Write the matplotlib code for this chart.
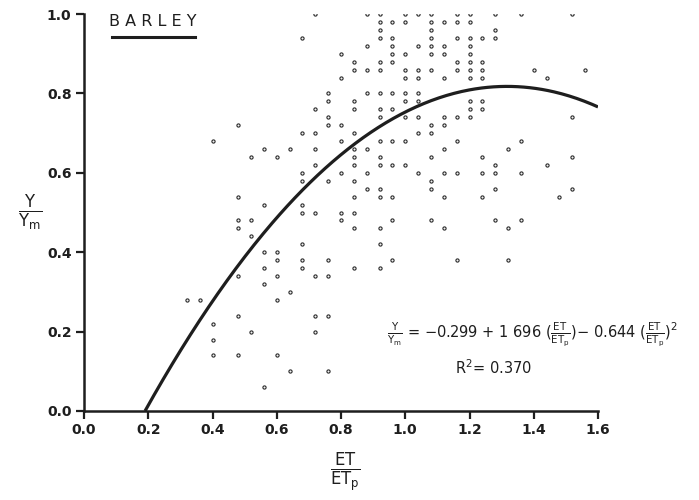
import numpy as np
import matplotlib
matplotlib.use("Agg")
import matplotlib.pyplot as plt
from matplotlib.lines import Line2D

plt.rcParams['font.family'] = ['DejaVu Sans']
plt.rcParams['mathtext.fontset'] = 'dejavusans'
plt.rcParams['mathtext.default'] = 'regular'

# ---- data: rows of (Y/Ym value -> ET/ETp values) ----
y_100 = [0.72, 0.88, 0.92, 1.00, 1.04, 1.08, 1.16, 1.20, 1.28, 1.36, 1.52]
y_098 = [0.92, 0.96, 1.00, 1.08, 1.12, 1.16, 1.20]
y_096 = [0.92, 1.08, 1.28]
y_094 = [0.68, 0.92, 0.96, 1.08, 1.16, 1.20, 1.24, 1.28]
y_092 = [0.88, 0.96, 1.04, 1.08, 1.12, 1.20]
y_090 = [0.80, 0.96, 1.00, 1.08, 1.12, 1.20]
y_088 = [0.84, 0.92, 0.96, 1.16, 1.20, 1.24]
y_086 = [0.84, 0.88, 0.92, 1.00, 1.04, 1.08, 1.16, 1.20, 1.24, 1.40, 1.56]
y_084 = [0.80, 1.00, 1.04, 1.12, 1.20, 1.24, 1.44]
y_080 = [0.76, 0.88, 0.92, 0.96, 1.00, 1.04]
y_078 = [0.76, 0.84, 1.00, 1.04, 1.20, 1.24]
y_076 = [0.72, 0.84, 0.92, 0.96, 1.20, 1.24]
y_074 = [0.76, 0.92, 1.00, 1.04, 1.12, 1.16, 1.20, 1.52]
y_072 = [0.48, 0.76, 0.80, 1.08, 1.12]
y_070 = [0.68, 0.72, 0.84, 1.04, 1.08]
y_068 = [0.40, 0.80, 0.92, 0.96, 1.00, 1.16, 1.36]
y_066 = [0.56, 0.64, 0.72, 0.84, 0.88, 1.12, 1.32]
y_064 = [0.52, 0.60, 0.84, 0.92, 1.08, 1.24, 1.52]
y_062 = [0.72, 0.84, 0.92, 0.96, 1.00, 1.28, 1.44]
y_060 = [0.68, 0.80, 0.88, 1.04, 1.12, 1.16, 1.24, 1.28, 1.36]
y_058 = [0.68, 0.76, 0.84, 1.08]
y_056 = [0.88, 0.92, 1.08, 1.28, 1.52]
y_054 = [0.48, 0.84, 0.92, 0.96, 1.12, 1.24, 1.48]
y_052 = [0.56, 0.68]
y_050 = [0.68, 0.72, 0.80, 0.84]
y_048 = [0.48, 0.52, 0.80, 0.96, 1.08, 1.28, 1.36]
y_046 = [0.48, 0.84, 0.92, 1.12, 1.32]
y_044 = [0.52]
y_042 = [0.68, 0.92]
y_040 = [0.56, 0.60]
y_038 = [0.60, 0.68, 0.76, 0.96, 1.16, 1.32]
y_036 = [0.56, 0.68, 0.84, 0.92]
y_034 = [0.48, 0.60, 0.72, 0.76]
y_032 = [0.56]
y_030 = [0.64]
y_028 = [0.32, 0.36, 0.60]
y_024 = [0.48, 0.72, 0.76]
y_022 = [0.40]
y_020 = [0.52, 0.72]
y_018 = [0.40]
y_014 = [0.40, 0.48, 0.60]
y_010 = [0.64, 0.76]
y_006 = [0.56]

rows = {
    1.00: y_100, 0.98: y_098, 0.96: y_096, 0.94: y_094, 0.92: y_092,
    0.90: y_090, 0.88: y_088, 0.86: y_086, 0.84: y_084, 0.80: y_080,
    0.78: y_078, 0.76: y_076, 0.74: y_074, 0.72: y_072, 0.70: y_070,
    0.68: y_068, 0.66: y_066, 0.64: y_064, 0.62: y_062, 0.60: y_060,
    0.58: y_058, 0.56: y_056, 0.54: y_054, 0.52: y_052, 0.50: y_050,
    0.48: y_048, 0.46: y_046, 0.44: y_044, 0.42: y_042, 0.40: y_040,
    0.38: y_038, 0.36: y_036, 0.34: y_034, 0.32: y_032, 0.30: y_030,
    0.28: y_028, 0.24: y_024, 0.22: y_022, 0.20: y_020, 0.18: y_018,
    0.14: y_014, 0.10: y_010, 0.06: y_006,
}

# regression coefficients shown on the chart
coef_a, coef_b, coef_c = -0.299, 1.696, -0.644
x_ticks = [0.0, 0.2, 0.4, 0.6, 0.8, 1.0, 1.2, 1.4, 1.6]
x_tick_labels = ['0.0', '0.2', '0.4', '0.6', '0.8', '1.0', '1.2', '1.4', '1.6']
y_ticks = [0.0, 0.2, 0.4, 0.6, 0.8, 1.0]
y_tick_labels = ['0.0', '0.2', '0.4', '0.6', '0.8', '1.0']

xs, ys = [], []
for yv, xl in rows.items():
    for xv in xl:
        xs.append(xv)
        ys.append(yv)

W, H = 699, 500
fig = plt.figure(figsize=(W / 100, H / 100), dpi=100)
fig.patch.set_facecolor('white')

def fx(px):
    return px / W

def fy(py):
    return 1 - py / H

ax_l, ax_r, ax_b, ax_t = 84, 598, 411, 14
ax = fig.add_axes([fx(ax_l), fy(ax_b), (ax_r - ax_l) / W, (ax_b - ax_t) / H])
ax.set_xlim(0.0, 1.6)
ax.set_ylim(0.0, 1.0)

ink = '#1e1e1e'
ax.plot(xs, ys, linestyle='none', marker='o', markersize=2.3,
        markerfacecolor='#f4f4f4', markeredgecolor='#2a2a2a', markeredgewidth=0.8,
        zorder=3)

# fitted curve
disc = coef_b ** 2 - 4 * coef_a * coef_c
x_root = (-coef_b + np.sqrt(disc)) / (2 * coef_c)
xc = np.linspace(x_root, 1.6, 300)
yc = coef_a + coef_b * xc + coef_c * xc ** 2
ax.plot(xc, yc, color=ink, linewidth=2.3, solid_capstyle='butt', zorder=4)

for s in ['top', 'right']:
    ax.spines[s].set_visible(False)
for s in ['left', 'bottom']:
    ax.spines[s].set_linewidth(1.8)
    ax.spines[s].set_color(ink)

ax.set_xticks(x_ticks)
ax.set_xticklabels(x_tick_labels)
ax.set_yticks(y_ticks)
ax.set_yticklabels(y_tick_labels)
ax.tick_params(axis='both', direction='out', length=6, width=1.6, color=ink,
               labelsize=10, labelcolor=ink, pad=3)
for lab in ax.get_xticklabels() + ax.get_yticklabels():
    lab.set_fontweight('bold')

# title with underline
fig.text(fx(153), fy(22), 'B A R L E Y', ha='center', va='center', fontsize=11.5,
         color=ink, fontweight='medium')
fig.add_artist(Line2D([fx(112), fx(195)], [fy(37), fy(37)], color=ink,
                      linewidth=2.2, transform=fig.transFigure))

# axis labels as fractions
fig.text(fx(30), fy(213), r'$\frac{Y}{Y_m}$', ha='center', va='center',
         fontsize=17, color=ink)
fig.text(fx(345), fy(472), r'$\frac{ET}{ET_p}$', ha='center', va='center',
         fontsize=17, color=ink)

# equation
eq = (r'$\frac{Y}{Y_m}$ = $-$0.299 + 1 696 ($\frac{ET}{ET_p}$)$-$ 0.644 '
      r'($\frac{ET}{ET_p}$)$^2$')
fig.text(fx(387), fy(334), eq, ha='left', va='center', fontsize=10.5,
         color=ink)
fig.text(fx(494), fy(368), r'R$^2$= 0.370', ha='center', va='center',
         fontsize=10.5, color=ink)

fig.savefig('out.png', dpi=100, facecolor='white')
